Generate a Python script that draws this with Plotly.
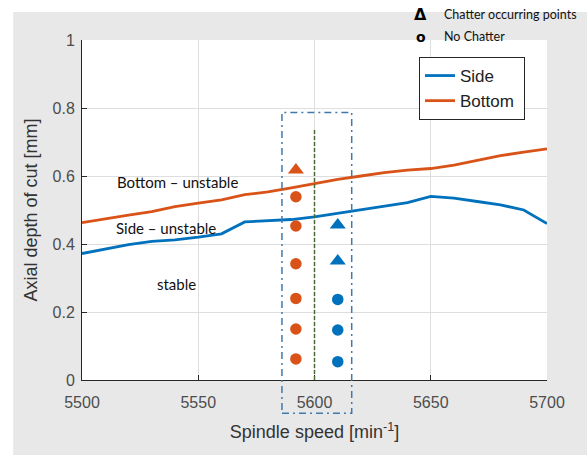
import plotly.graph_objects as go

# ---- data ----
rpm = [5500, 5510, 5520, 5530, 5540, 5550, 5560, 5570, 5580, 5590, 5600,
       5610, 5620, 5630, 5640, 5650, 5660, 5670, 5680, 5690, 5700]
side = [0.372, 0.385, 0.398, 0.408, 0.412, 0.420, 0.430, 0.465, 0.468, 0.472, 0.480,
        0.490, 0.500, 0.510, 0.522, 0.540, 0.535, 0.525, 0.515, 0.500, 0.460]
bottom = [0.463, 0.475, 0.485, 0.495, 0.510, 0.520, 0.530, 0.545, 0.553, 0.565, 0.578,
          0.590, 0.600, 0.610, 0.617, 0.622, 0.632, 0.645, 0.660, 0.670, 0.680]

bottom_test_rpm = 5592
bottom_nochatter = [0.062, 0.150, 0.240, 0.342, 0.453, 0.539]
bottom_chatter = [0.618]
side_test_rpm = 5610
side_nochatter = [0.054, 0.147, 0.237]
side_chatter = [0.350, 0.456]

box_rpm = [5586, 5616]
box_depth = [-0.098, 0.787]
divider_rpm = 5600
divider_depth = [0.0, 0.74]

x_ticks = [5500, 5550, 5600, 5650, 5700]
y_ticks = [0, 0.2, 0.4, 0.6, 0.8, 1]
x_range = [5500, 5700]
y_range = [0, 1]

BLUE = "#0072BD"
ORANGE = "#D95319"

fig = go.Figure()
fig.add_trace(go.Scatter(x=rpm, y=side, mode="lines", name="Side",
                         line=dict(color=BLUE, width=2.8)))
fig.add_trace(go.Scatter(x=rpm, y=bottom, mode="lines", name="Bottom&nbsp;",
                         line=dict(color=ORANGE, width=2.8)))
fig.add_trace(go.Scatter(x=[bottom_test_rpm] * len(bottom_nochatter), y=bottom_nochatter,
                         mode="markers", showlegend=False,
                         marker=dict(symbol="circle", size=11.5, color=ORANGE)))
fig.add_trace(go.Scatter(x=[bottom_test_rpm] * len(bottom_chatter), y=bottom_chatter,
                         mode="markers", showlegend=False,
                         marker=dict(symbol="triangle-up", size=14, color=ORANGE)))
fig.add_trace(go.Scatter(x=[side_test_rpm] * len(side_nochatter), y=side_nochatter,
                         mode="markers", showlegend=False,
                         marker=dict(symbol="circle", size=11.5, color=BLUE)))
fig.add_trace(go.Scatter(x=[side_test_rpm] * len(side_chatter), y=side_chatter,
                         mode="markers", showlegend=False,
                         marker=dict(symbol="triangle-up", size=14, color=BLUE)))


def px(v):
    return (v - x_range[0]) / (x_range[1] - x_range[0])


def py(v):
    return (v - y_range[0]) / (y_range[1] - y_range[0])


shapes = [
    dict(type="rect", xref="paper", yref="paper", x0=-0.148, x1=1.09, y0=-0.2206, y1=1.082,
         fillcolor="#e8e8e8", line=dict(width=0), layer="below"),
    dict(type="rect", xref="paper", yref="paper", x0=0, x1=1, y0=0, y1=1,
         fillcolor="white", line=dict(width=0), layer="below"),
    dict(type="rect", xref="paper", yref="paper",
         x0=px(box_rpm[0]), x1=px(box_rpm[1]), y0=py(box_depth[0]), y1=py(box_depth[1]),
         line=dict(color="#3f79ad", width=1.5, dash="7px,4px,2px,4px"), layer="above"),
    dict(type="line", xref="x", yref="y", x0=divider_rpm, x1=divider_rpm,
         y0=divider_depth[0], y1=divider_depth[1],
         line=dict(color="#4a6b35", width=1.5, dash="4px,2px"), layer="above"),
]

region_font = dict(family="Lato", size=15, color="#111111")
small_font = dict(family="Lato", size=12.5, color="#111111")
annotations = [
    dict(x=5541, y=0.582, xref="x", yref="y", text="Bottom – unstable", showarrow=False,
         xanchor="center", yanchor="middle", font=region_font),
    dict(x=5536, y=0.447, xref="x", yref="y", text="Side – unstable", showarrow=False,
         xanchor="center", yanchor="middle", font=region_font),
    dict(x=5540.6, y=0.282, xref="x", yref="y", text="stable", showarrow=False,
         xanchor="center", yanchor="middle", font=region_font),
    dict(x=0.729, y=1.074, xref="paper", yref="paper", text="<b>Δ</b>", showarrow=False,
         xanchor="center", yanchor="middle",
         font=dict(family="DejaVu Sans", size=16, color="black")),
    dict(x=0.774, y=1.074, xref="paper", yref="paper", text="Chatter occurring points",
         showarrow=False, xanchor="left", yanchor="middle", font=small_font),
    dict(x=0.729, y=1.009, xref="paper", yref="paper", text="<b>o</b>", showarrow=False,
         xanchor="center", yanchor="middle",
         font=dict(family="DejaVu Sans", size=14, color="black")),
    dict(x=0.774, y=1.009, xref="paper", yref="paper", text="No Chatter",
         showarrow=False, xanchor="left", yanchor="middle", font=small_font),
]

axis_common = dict(
    showline=True, linecolor="#262626", linewidth=1,
    ticks="inside", ticklen=5, tickcolor="#262626", tickwidth=1,
    showgrid=True, gridcolor="#dedede", gridwidth=1,
    zeroline=False, mirror=False,
    tickfont=dict(family="Liberation Sans", size=16, color="#4d4d4d"),
)

fig.update_layout(
    width=587, height=457, autosize=False,
    margin=dict(l=82, r=40, t=40, b=77),
    paper_bgcolor="white", plot_bgcolor="white",
    shapes=shapes, annotations=annotations,
    xaxis=dict(range=x_range, tickvals=x_ticks, ticklabelstandoff=8, **axis_common,
               title=dict(text="Spindle speed [min<sup>-1</sup>]", standoff=15,
                          font=dict(family="Liberation Sans", size=18, color="#333333"))),
    yaxis=dict(range=y_range, tickvals=y_ticks, ticklabelstandoff=3, **axis_common,
               title=dict(text="Axial depth of cut [mm]", standoff=10,
                          font=dict(family="Liberation Sans", size=18, color="#333333"))),
    legend=dict(x=0.7247, y=0.95, xanchor="left", yanchor="top",
                bgcolor="white", bordercolor="#262626", borderwidth=1,
                font=dict(family="Liberation Sans", size=17, color="#222222"),
                tracegroupgap=0, itemwidth=30),
    showlegend=True,
)

fig.write_html("out.html")
